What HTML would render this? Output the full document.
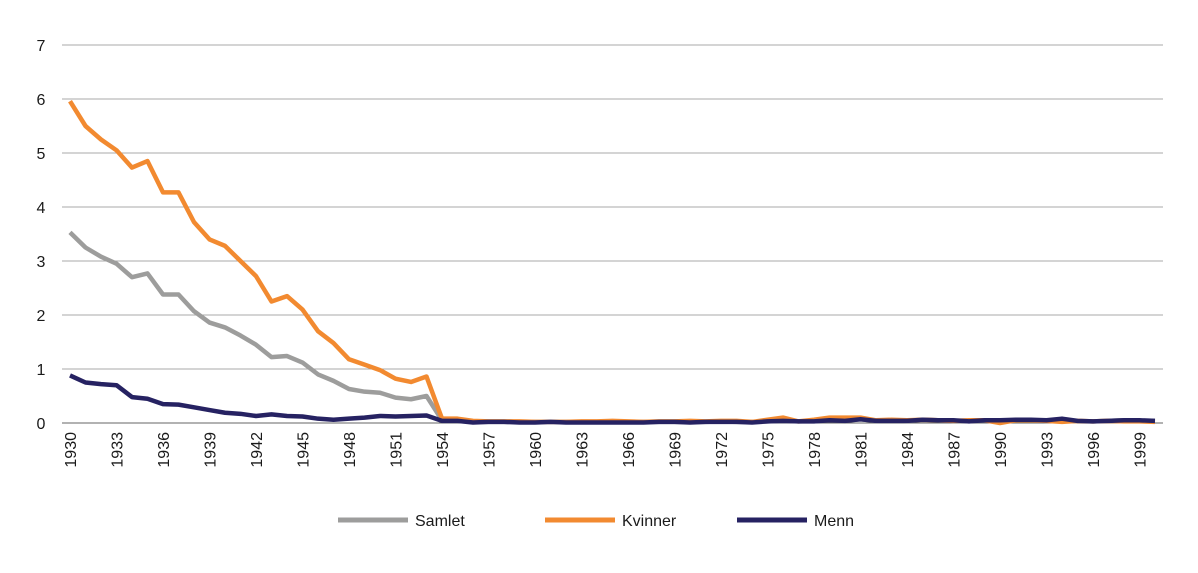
<!DOCTYPE html>
<html><head><meta charset="utf-8"><style>
body{margin:0;background:#fff;font-family:"Liberation Sans",sans-serif;}
svg text{font-family:"Liberation Sans",sans-serif;fill:#1a1a1a;}
</style></head><body>
<svg id="chart" width="1198" height="568" xmlns="http://www.w3.org/2000/svg">
<g id="grid"></g>
<g id="ylab"></g>
<g id="xlab"></g>
<g id="series"></g>
<g>
 <g><line x1="338" y1="520" x2="408" y2="520" stroke="#9d9d9c" stroke-width="5"/><text x="415" y="526" font-size="16">Samlet</text></g>
 <g><line x1="545" y1="520" x2="615" y2="520" stroke="#f28a30" stroke-width="5"/><text x="622" y="526" font-size="16">Kvinner</text></g>
 <g><line x1="737" y1="520" x2="807" y2="520" stroke="#262262" stroke-width="5"/><text x="814" y="526" font-size="16">Menn</text></g>
</g>
</svg>
<script>
const years=[];for(let y=1930;y<=2000;y++)years.push(y);
const yTicks=[0,1,2,3,4,5,6,7];
const kvinner=[5.96,5.5,5.25,5.05,4.73,4.85,4.27,4.27,3.72,3.4,3.28,3.0,2.72,2.25,2.35,2.1,1.7,1.48,1.18,1.08,0.98,0.82,0.76,0.86,0.08,0.08,0.04,0.03,0.03,0.03,0.02,0.02,0.02,0.03,0.03,0.04,0.03,0.02,0.03,0.03,0.04,0.03,0.04,0.04,0.02,0.06,0.1,0.03,0.06,0.1,0.1,0.1,0.05,0.06,0.05,0.06,0.05,0.04,0.05,0.05,0.0,0.05,0.05,0.04,0.02,0.04,0.03,0.04,0.03,0.03,0.02];
const samlet=[3.53,3.25,3.08,2.95,2.7,2.77,2.38,2.38,2.07,1.86,1.77,1.62,1.45,1.22,1.24,1.12,0.9,0.78,0.63,0.58,0.56,0.47,0.44,0.5,0.05,0.05,0.02,0.02,0.02,0.02,0.02,0.02,0.02,0.02,0.02,0.02,0.02,0.02,0.02,0.02,0.02,0.02,0.03,0.02,0.02,0.03,0.05,0.03,0.04,0.06,0.05,0.07,0.04,0.05,0.04,0.06,0.05,0.04,0.04,0.05,0.03,0.05,0.05,0.04,0.06,0.03,0.03,0.04,0.05,0.04,0.04];
const menn=[0.88,0.75,0.72,0.7,0.48,0.45,0.35,0.34,0.29,0.24,0.19,0.17,0.13,0.16,0.13,0.12,0.08,0.06,0.08,0.1,0.13,0.12,0.13,0.14,0.04,0.04,0.01,0.02,0.02,0.01,0.01,0.02,0.01,0.01,0.01,0.01,0.01,0.01,0.02,0.02,0.01,0.02,0.02,0.02,0.01,0.03,0.04,0.03,0.03,0.05,0.04,0.07,0.04,0.04,0.04,0.06,0.05,0.05,0.03,0.05,0.05,0.06,0.06,0.05,0.08,0.04,0.03,0.04,0.05,0.05,0.04];
const NS="http://www.w3.org/2000/svg";
const X=y=>70+(y-1930)*15.5;
const Y=v=>423-v*54;
function mk(t,p,a){const e=document.createElementNS(NS,t);for(const k in a)e.setAttribute(k,a[k]);p.appendChild(e);return e;}
const grid=document.getElementById('grid'),ylab=document.getElementById('ylab'),xlab=document.getElementById('xlab'),ser=document.getElementById('series');
yTicks.forEach(v=>{
 const l=mk('line',grid,{x1:62,x2:1163,y1:Y(v),y2:Y(v),stroke:v===0?'#666':'#a8a8a8','stroke-width':1});
 
 
 const t=mk('text',ylab,{x:41,y:Y(v)+6,'font-size':16,'text-anchor':'middle'});
 t.textContent=v;
 
 
});
years.forEach(y=>{
 if((y-1930)%3!==0)return;
 const x=X(y);
 const t=mk('text',xlab,{x:0,y:0,'font-size':16,'text-anchor':'end',transform:`translate(${x+6},432) rotate(-90)`});
 t.textContent=y;
 
 
});
[[samlet,'#9d9d9c','samlet'],[kvinner,'#f28a30','kvinner'],[menn,'#262262','menn']].forEach(([d,c,n])=>{
 const p=mk('polyline',ser,{points:d.map((v,i)=>X(years[i])+','+Y(v)).join(' '),fill:'none',stroke:c,'stroke-width':4.5,'stroke-linejoin':'round'});
 
 
});
</script>
</body></html>
